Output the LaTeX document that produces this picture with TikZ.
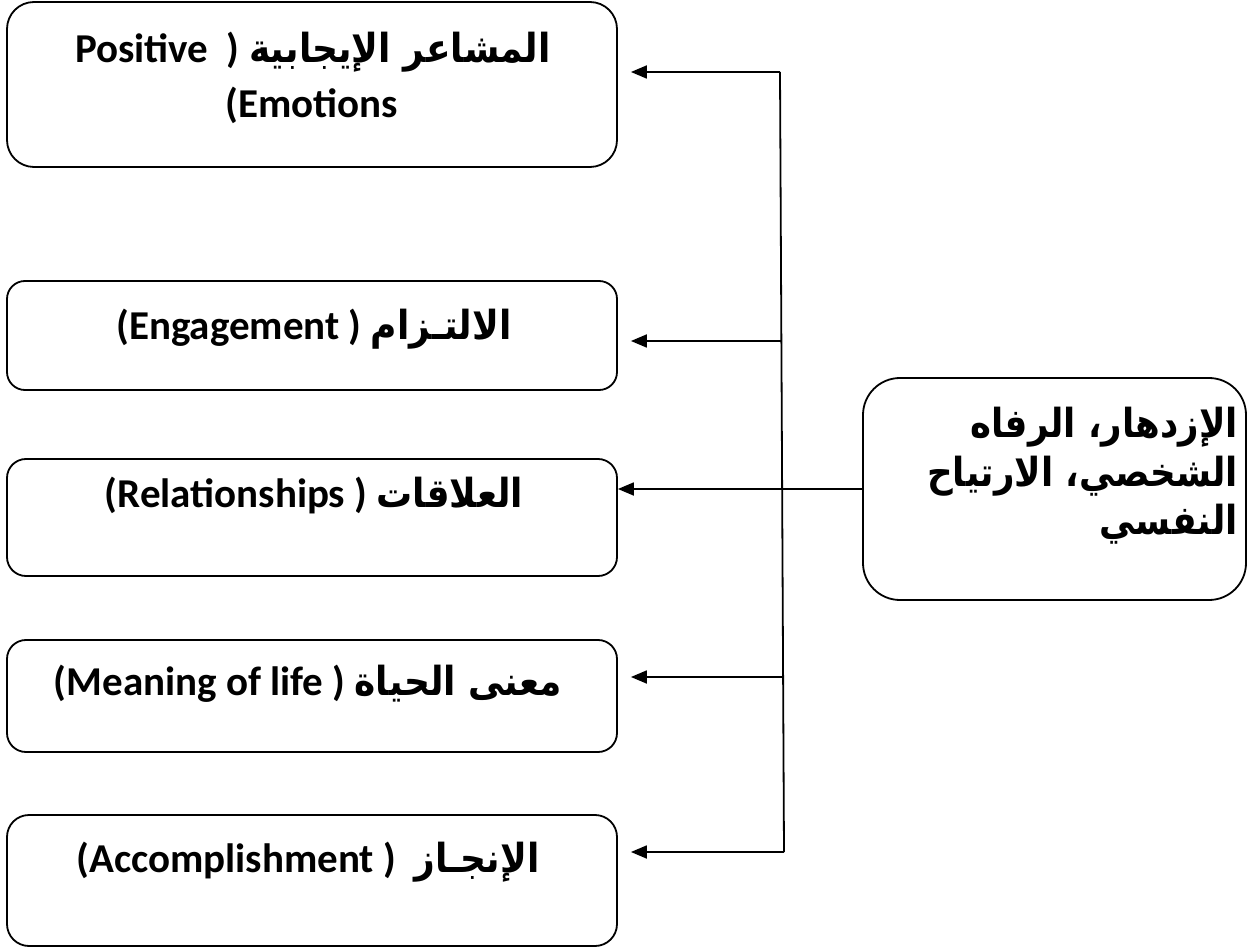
\documentclass[tikz,border=0pt]{standalone}
\usepackage{fontspec}
\usetikzlibrary{arrows.meta}
\TeXXeTstate=1
\newfontfamily\latinfont{Carlito}
\newfontfamily\arabicfont[Script=Arabic, FakeStretch=0.9]{DejaVu Sans}
\newfontfamily\hubfont[Script=Arabic, FakeStretch=0.89]{DejaVu Sans}
% Arabic words inside the Latin labels, set right to left
\newcommand{\arword}[1]{{\arabicfont\bfseries\fontsize{40}{46}\selectfont\beginR #1\endR}}

\begin{document}
\begin{tikzpicture}[x=1pt,y=-1pt,
  box/.style={draw, line width=1.8pt, inner sep=0pt, minimum width=610pt},
  lbl/.style={font=\latinfont\bfseries\fontsize{41}{50}\selectfont, inner sep=0pt, anchor=base},
  hubtxt/.style={font=\hubfont\bfseries\fontsize{40}{48}\selectfont, inner sep=0pt, anchor=base east},
  link/.style={line width=1.8pt},
  arr/.style={link, -{Triangle[length=16pt,width=13pt]}}]

\useasboundingbox (0,0) rectangle (1248,949);

% the five components on the left
\node[box, minimum height=165pt, rounded corners=27pt] (b1) at (312,84.5) {};
\node[box, minimum height=109pt, rounded corners=18pt] (b2) at (312,335.5) {};
\node[box, minimum height=117pt, rounded corners=19pt] (b3) at (312,517.5) {};
\node[box, minimum height=112pt, rounded corners=19pt] (b4) at (312,696) {};
\node[box, minimum height=131pt, rounded corners=22pt] (b5) at (312,880.5) {};

% the central concept on the right
\node[draw, line width=1.8pt, inner sep=0pt, minimum width=383pt, minimum height=222pt,
      rounded corners=37pt] (hub) at (1054.5,489) {};

% labels
\node[lbl] (t1a) at (313,63) {Positive\ \ ) \arword{المشاعر الإيجابية}};
\node[lbl] (t1b) at (312,118) {(Emotions};
\node[lbl] (t2) at (314,340) {(Engagement ) \arword{الالتـزام}};
\node[lbl] (t3) at (314,507) {(Relationships ) \arword{العلاقات}};
\node[lbl] (t4) at (308,695) {(Meaning of life ) \arword{معنى الحياة}};
\node[lbl] (t5) at (308,872) {(Accomplishment )\ \ \arword{الإنجـاز}};

\node[hubtxt] (h1) at (1238,438) {\beginR الإزدهار، الرفاه\endR};
\node[hubtxt] (h2) at (1238,486) {\beginR الشخصي، الارتياح\endR};
\node[hubtxt] (h3) at (1238,534) {\beginR النفسي\endR};

% distribution spine
\coordinate (s1) at (780,72);
\coordinate (s2) at (781.4,341);
\coordinate (s4) at (783.1,677);
\coordinate (s5) at (784,852);
\draw[link] (s1) -- (s5);

% connectors
\draw[arr] (hub.west) -- (hub.west -| b3.east);
\draw[arr, shorten >=13pt] (s1) -- (s1 -| b1.east);
\draw[arr, shorten >=13pt] (s2) -- (s2 -| b2.east);
\draw[arr, shorten >=13pt] (s4) -- (s4 -| b4.east);
\draw[arr, shorten >=13pt] (s5) -- (s5 -| b5.east);
\end{tikzpicture}
\end{document}
